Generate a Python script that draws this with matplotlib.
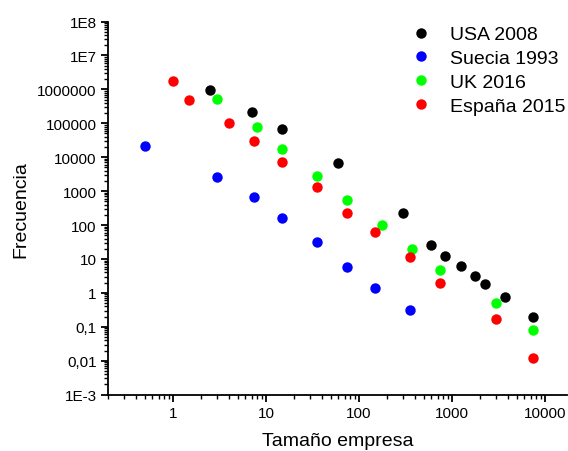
import numpy as np
import matplotlib
matplotlib.use("Agg")
import matplotlib.pyplot as plt
from matplotlib.ticker import FixedLocator, FixedFormatter, LogLocator, NullFormatter

plt.rcParams['font.family'] = ['Liberation Sans', 'DejaVu Sans']

# data
usa_x = [2.5, 7, 15, 60, 300, 600, 850, 1250, 1750, 2250, 3750, 7500]
usa_y = [9.8e5, 2.2e5, 6.8e4, 6900, 230, 25, 12.5, 6.2, 3.1, 1.8, 0.78, 0.2]

suecia_x = [0.5, 3, 7.5, 15, 35, 75, 150, 350]
suecia_y = [2.1e4, 2670, 670, 165, 32, 5.7, 1.43, 0.32]

uk_x = [3, 8, 15, 35, 75, 175, 375, 750, 3000, 7500]
uk_y = [5.3e5, 7.6e4, 1.75e4, 2850, 537, 100, 19.3, 4.8, 0.5, 0.083]

esp_x = [1, 1.5, 4, 7.5, 15, 35, 75, 150, 350, 750, 3000, 7500]
esp_y = [1.76e6, 4.85e5, 1.0e5, 2.95e4, 7400, 1350, 232, 61, 11.5, 1.92, 0.167, 0.012]

y_ticks = [1e8, 1e7, 1e6, 1e5, 1e4, 1e3, 100, 10, 1, 0.1, 0.01, 1e-3]
y_labels = ["1E8", "1E7", "1000000", "100000", "10000", "1000", "100", "10",
            "1", "0,1", "0,01", "1E-3"]
x_ticks = [1, 10, 100, 1000, 10000]
x_labels = ["1", "10", "100", "1000", "10000"]

fig = plt.figure(figsize=(5.68, 4.52), dpi=100)
ax = fig.add_axes([0.190, 0.1246, 0.808, 0.8256])

ms = 7.5
ax.plot(usa_x, usa_y, 'o', color='black', ms=ms, mec='none', label='USA 2008')
ax.plot(suecia_x, suecia_y, 'o', color='#0000ff', ms=ms, mec='none', label='Suecia 1993')
ax.plot(uk_x, uk_y, 'o', color='#00ff00', ms=ms, mec='none', label='UK 2016')
ax.plot(esp_x, esp_y, 'o', color='#ff0000', ms=ms, mec='none', label='España 2015')

ax.set_xscale('log')
ax.set_yscale('log')
ax.set_xlim(0.2, 17200)
ax.set_ylim(1e-3, 1e8)

ax.yaxis.set_major_locator(FixedLocator(y_ticks))
ax.yaxis.set_major_formatter(FixedFormatter(y_labels))
ax.yaxis.set_minor_locator(LogLocator(base=10, subs=np.arange(2, 10), numticks=50))
ax.yaxis.set_minor_formatter(NullFormatter())
ax.xaxis.set_major_locator(FixedLocator(x_ticks))
ax.xaxis.set_major_formatter(FixedFormatter(x_labels))
ax.xaxis.set_minor_locator(LogLocator(base=10, subs=np.arange(2, 10), numticks=50))
ax.xaxis.set_minor_formatter(NullFormatter())

for s in ['top', 'right']:
    ax.spines[s].set_visible(False)
for s in ['left', 'bottom']:
    ax.spines[s].set_linewidth(1.3)

ax.tick_params(which='major', direction='out', length=5, width=1.3, labelsize=11, pad=3)
ax.tick_params(which='minor', direction='out', length=3, width=1.0)

ax.set_xlabel('Tamaño empresa', fontsize=14, labelpad=9)
ax.set_ylabel('Frecuencia', fontsize=14, labelpad=6)

ax.legend(loc='upper left', bbox_to_anchor=(0.61, 1.025), frameon=False, fontsize=14,
          handletextpad=0.5, labelspacing=0.32, markerscale=1.0, borderaxespad=0.3)

fig.savefig('out.png', dpi=100)
